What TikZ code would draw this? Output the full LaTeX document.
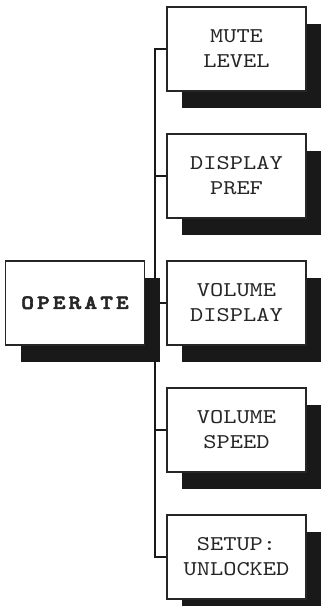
\documentclass[tikz,border=0pt]{standalone}
\usepackage{fontspec}
\newfontfamily\menufont[FakeStretch=1.2]{lmmono10-regular.otf}
\newfontfamily\topmenufont[FakeStretch=1.2,FakeBold=3,LetterSpace=16]{lmmonolt10-bold.otf}
\usetikzlibrary{positioning}
\usetikzlibrary{shadows}

\begin{document}
\begin{tikzpicture}[x=1pt,y=1pt,
    menubox/.style={draw=black!85, line width=1.5pt, fill=white, text=black!85,
      minimum width=139pt, minimum height=84pt, inner sep=0pt, align=center,
      font=\menufont\fontsize{21}{25}\selectfont,
      drop shadow={shadow xshift=15pt, shadow yshift=-17pt, fill=black!90, opacity=1}},
    link/.style={line width=2pt, black!90}]

    \useasboundingbox (0,0) rectangle (321,606);

    % submenu boxes
    \node[menubox] (mute) at (236.5,557.2) {MUTE\\LEVEL};
    \node[menubox, below=41.5pt of mute] (pref) {DISPLAY\\PREF};
    \node[menubox, below=41.5pt of pref] (voldisp) {VOLUME\\DISPLAY};
    \node[menubox, below=41.5pt of voldisp] (volspeed) {VOLUME\\SPEED};
    \node[menubox, below=41.5pt of volspeed] (setup) {SETUP:\\UNLOCKED};

    % main menu box
    \node[menubox, left=21pt of voldisp,
      font=\topmenufont\fontsize{20}{25}\selectfont] (operate) {OPERATE};

    % draw connectors
    \coordinate[left=11pt of mute.west] (spinetop);
    \coordinate[left=11pt of setup.west] (spinebot);
    \draw[link] (mute.west) -- (spinetop) -- (spinebot) -- (setup.west);
    \draw[link] (pref.west) -- (pref.west -| spinetop);
    \draw[link] (volspeed.west) -- (volspeed.west -| spinetop);
    \draw[link] (operate.east) -- (voldisp.west);
  \end{tikzpicture}
\end{document}
